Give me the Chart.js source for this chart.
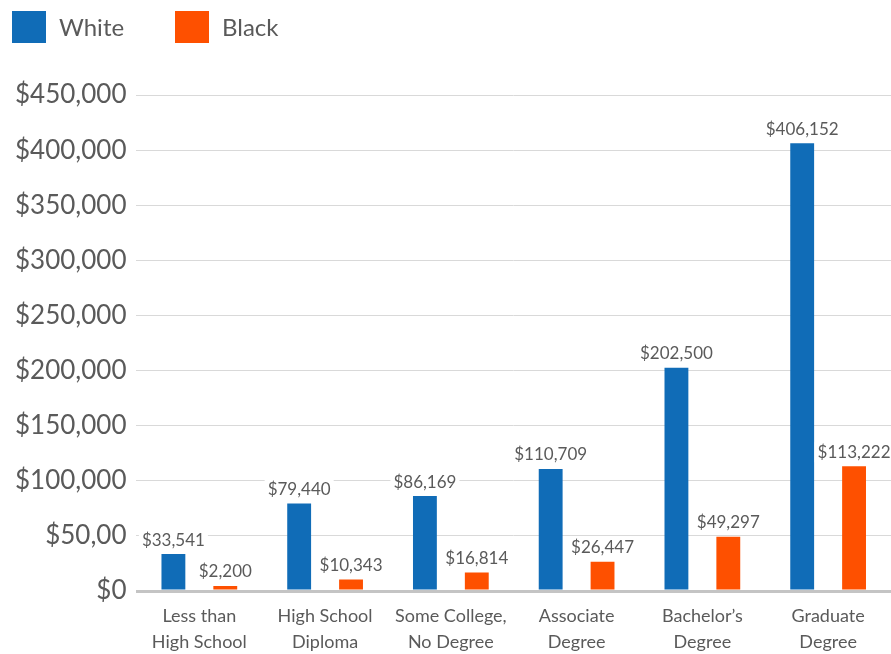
<!DOCTYPE html>
<html>
<head>
<meta charset="utf-8">
<script src="https://cdn.jsdelivr.net/npm/chart.js@4/dist/chart.umd.min.js"></script>
<style>
  html, body { margin: 0; padding: 0; background: #fff; }
  #wrap { width: 891px; height: 654px; }
</style>
</head>
<body>
<div id="wrap"><canvas id="c" width="891" height="654"></canvas></div>
<script>
const categories = [
  ['Less than', 'High School'],
  ['High School', 'Diploma'],
  ['Some College,', 'No Degree'],
  ['Associate', 'Degree'],
  ['Bachelor\u2019s', 'Degree'],
  ['Graduate', 'Degree']
];
const whiteValues = [33541, 79440, 86169, 110709, 202500, 406152];
const blackValues = [2200, 10343, 16814, 26447, 49297, 113222];
const yTickLabels = ['$0', '$50,00', '$100,000', '$150,000', '$200,000', '$250,000', '$300,000', '$350,000', '$400,000', '$450,000'];

const FONT = 'Lato, "Noto Sans", sans-serif';
const GREY = '#5a5a5a';

function money(v) { return '$' + v.toLocaleString('en-US'); }

// legend drawn at top-left like the original
const topLegend = {
  id: 'topLegend',
  afterDraw(chart) {
    const ctx = chart.ctx;
    const xs = [12, 175];
    ctx.save();
    ctx.font = '24px ' + FONT;
    ctx.textBaseline = 'middle';
    chart.data.datasets.forEach((ds, i) => {
      ctx.fillStyle = ds.backgroundColor;
      ctx.fillRect(xs[i], 11, 34, 32);
      ctx.fillStyle = GREY;
      ctx.fillText(ds.label, xs[i] + 47, 28);
    });
    ctx.restore();
  }
};

// value labels above each bar, white box behind
const barLabels = {
  id: 'barLabels',
  afterDatasetsDraw(chart) {
    const ctx = chart.ctx;
    ctx.save();
    ctx.font = '17px ' + FONT;
    ctx.textAlign = 'center';
    ctx.textBaseline = 'middle';
    chart.data.datasets.forEach((ds, i) => {
      chart.getDatasetMeta(i).data.forEach((bar, j) => {
        const txt = money(ds.data[j]);
        const w = ctx.measureText(txt).width;
        const y = bar.y - 14;
        ctx.fillStyle = '#fff';
        ctx.fillRect(bar.x - w / 2 - 3, y - 10, w + 6, 20);
        ctx.fillStyle = GREY;
        ctx.fillText(txt, bar.x, y);
      });
    });
    ctx.restore();
  }
};

new Chart(document.getElementById('c').getContext('2d'), {
  type: 'bar',
  data: {
    labels: categories,
    datasets: [
      { label: 'White', data: whiteValues, backgroundColor: '#106cb7', barPercentage: 0.46, categoryPercentage: 0.825 },
      { label: 'Black', data: blackValues, backgroundColor: '#fe5000', barPercentage: 0.46, categoryPercentage: 0.825, minBarLength: 5 }
    ]
  },
  options: {
    responsive: false,
    animation: false,
    layout: { padding: { top: 95, left: 5, right: 0, bottom: -13 } },
    plugins: {
      legend: { display: false },
      tooltip: { enabled: false }
    },
    scales: {
      x: {
        grid: { display: false, drawTicks: false },
        border: { display: false },
        ticks: { color: GREY, font: { family: FONT, size: 18, lineHeight: '26px' }, padding: 12, maxRotation: 0, autoSkip: false }
      },
      y: {
        min: 0,
        max: 450000,
        border: { display: false },
        grid: {
          drawTicks: false,
          color: c => c.tick && c.tick.value === 0 ? '#c4c4c4' : '#d9d9d9',
          lineWidth: c => c.tick && c.tick.value === 0 ? 3 : 1
        },
        ticks: {
          stepSize: 50000,
          color: GREY,
          padding: 10,
          font: { family: FONT, size: 26 },
          callback: (v, i) => yTickLabels[i]
        }
      }
    }
  },
  plugins: [topLegend, barLabels]
});
</script>
</body>
</html>
